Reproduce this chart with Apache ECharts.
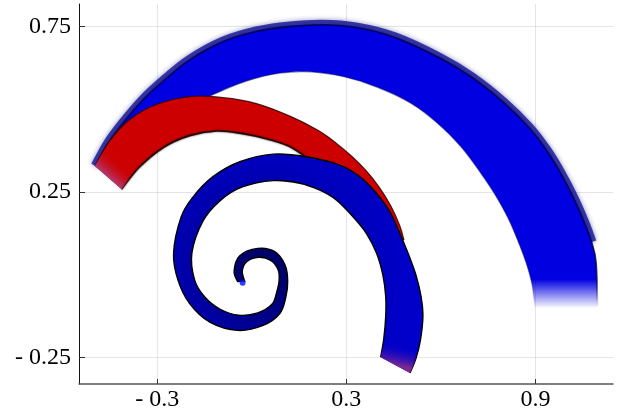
<!DOCTYPE html>
<html>
<head>
<meta charset="utf-8">
<script src="https://cdn.jsdelivr.net/npm/echarts@6/dist/echarts.min.js"></script>
<style>
html, body { margin: 0; padding: 0; background: #fff; }
#main { width: 622px; height: 414px; }
</style>
</head>
<body>
<div id="main"></div>
<script>
// tick labels
var xTicks = [-0.3, 0.3, 0.9];
var yTicks = [-0.25, 0.25, 0.75];

// inner spiral: outer edge and inner edge, from the centre outwards
var coilOuterX = [-0.044, -0.056, -0.038, 0.019, 0.073, 0.106, 0.114, 0.108, 0.089, 0.036, -0.044, -0.133, -0.197, -0.234, -0.248, -0.224, -0.186, -0.123, -0.038, 0.068, 0.174, 0.279, 0.343, 0.396, 0.438, 0.470, 0.496, 0.521, 0.537, 0.543, 0.535, 0.521, 0.502];
var coilOuterY = [-0.023, 0.010, 0.057, 0.079, 0.069, 0.028, -0.020, -0.069, -0.118, -0.154, -0.169, -0.144, -0.088, -0.017, 0.064, 0.174, 0.235, 0.296, 0.341, 0.364, 0.356, 0.331, 0.296, 0.245, 0.190, 0.124, 0.064, -0.002, -0.066, -0.126, -0.199, -0.253, -0.298];
var coilInnerX = [-0.022, -0.030, -0.016, 0.022, 0.060, 0.083, 0.087, 0.079, 0.064, 0.019, -0.041, -0.100, -0.149, -0.181, -0.190, -0.155, -0.102, -0.032, 0.068, 0.152, 0.216, 0.269, 0.322, 0.364, 0.396, 0.416, 0.425, 0.425, 0.419, 0.409];
var coilInnerY = [-0.022, 0.010, 0.039, 0.052, 0.043, 0.016, -0.017, -0.054, -0.090, -0.116, -0.123, -0.105, -0.068, -0.017, 0.064, 0.161, 0.222, 0.264, 0.284, 0.276, 0.255, 0.225, 0.174, 0.124, 0.064, -0.002, -0.066, -0.126, -0.193, -0.250];
var coilDot = [-0.029, -0.025];

// red arm
var redOuterX = [-0.498, -0.451, -0.387, -0.303, -0.197, -0.091, 0.015, 0.121, 0.210, 0.267, 0.318, 0.362, 0.403, 0.441, 0.470, 0.483];
var redOuterY = [0.328, 0.404, 0.469, 0.514, 0.538, 0.535, 0.517, 0.479, 0.436, 0.398, 0.357, 0.315, 0.266, 0.208, 0.147, 0.104];
var redInnerX = [-0.413, -0.356, -0.279, -0.197, -0.111, -0.029, 0.048, 0.130, 0.216, 0.295, 0.359, 0.406, 0.454];
var redInnerY = [0.258, 0.325, 0.385, 0.420, 0.434, 0.426, 0.410, 0.382, 0.322, 0.267, 0.210, 0.149, 0.104];

// big outer arm
var bigOuterX = [-0.495, -0.456, -0.409, -0.345, -0.271, -0.197, -0.091, 0.015, 0.121, 0.226, 0.330, 0.451, 0.596, 0.697, 0.798, 0.881, 0.935, 0.979, 1.021, 1.056, 1.078, 1.092, 1.097];
var bigOuterY = [0.328, 0.396, 0.457, 0.528, 0.593, 0.649, 0.704, 0.735, 0.750, 0.755, 0.747, 0.718, 0.655, 0.597, 0.521, 0.443, 0.376, 0.308, 0.231, 0.155, 0.098, 0.037, -0.099];
var bigInnerX = [-0.457, -0.419, -0.356, -0.276, -0.197, -0.123, -0.017, 0.089, 0.187, 0.293, 0.399, 0.505, 0.590, 0.664, 0.727, 0.775, 0.813, 0.844, 0.870, 0.889, 0.898];
var bigInnerY = [0.304, 0.334, 0.395, 0.458, 0.507, 0.544, 0.585, 0.609, 0.613, 0.598, 0.566, 0.518, 0.457, 0.386, 0.306, 0.237, 0.171, 0.103, 0.037, -0.029, -0.099];

function pairs(xs, ys) {
    var r = [];
    for (var i = 0; i < xs.length; i++) r.push([xs[i], ys[i]]);
    return r;
}
function toPx(api, xs, ys) {
    var r = [];
    for (var i = 0; i < xs.length; i++) r.push(api.coord([xs[i], ys[i]]));
    return r;
}
// smooth curve through the points (catmull-rom as bezier)
function bez(p, move) {
    var d = (move ? 'M' : 'L') + p[0][0] + ' ' + p[0][1];
    for (var i = 0; i < p.length - 1; i++) {
        var a = p[Math.max(i - 1, 0)], b = p[i], c = p[i + 1], e = p[Math.min(i + 2, p.length - 1)];
        d += ' C' + (b[0] + (c[0] - a[0]) / 6) + ' ' + (b[1] + (c[1] - a[1]) / 6) + ' ' +
            (c[0] - (e[0] - b[0]) / 6) + ' ' + (c[1] - (e[1] - b[1]) / 6) + ' ' + c[0] + ' ' + c[1];
    }
    return d;
}
function band(o, n) {
    return bez(o, true) + ' ' + bez(n.slice().reverse(), false) + ' Z';
}
function mid(a, b) {
    return [(a[0] + b[0]) / 2, (a[1] + b[1]) / 2];
}
function fade(cap, back, len, c1, c2) {
    var dx = back[0] - cap[0], dy = back[1] - cap[1], l = Math.sqrt(dx * dx + dy * dy);
    return new echarts.graphic.LinearGradient(cap[0], cap[1], cap[0] + dx / l * len, cap[1] + dy / l * len,
        [{offset: 0, color: c1}, {offset: 1, color: c2}], true);
}
function line(p, color, w, blur, blurColor) {
    return {type: 'path', shape: {pathData: bez(p, true)},
        style: {fill: 'none', stroke: color, lineWidth: w, shadowBlur: blur || 0, shadowColor: blurColor || color}};
}

function renderBig(params, api) {
    if (params.dataIndex !== 0) return;
    var o = toPx(api, bigOuterX, bigOuterY), n = toPx(api, bigInnerX, bigInnerY);
    var top = Infinity, bot = -Infinity;
    o.forEach(function (p) { top = Math.min(top, p[1]); bot = Math.max(bot, p[1]); });
    var s = (bot - 28 - top) / (bot - top);
    function g(c, c2) {
        return new echarts.graphic.LinearGradient(0, top, 0, bot,
            [{offset: 0, color: c}, {offset: s, color: c}, {offset: 1, color: c2}], true);
    }
    return {
        type: 'group',
        children: [
            line(o.slice(0, o.length - 2), 'rgba(10,10,140,0.75)', 10, 5, 'rgba(10,10,140,0.6)'),
            {type: 'path', shape: {pathData: band(o, n)}, style: {fill: g('#0000e0', 'rgba(0,0,224,0.04)'), stroke: 'none'}},
            line(o, g('rgba(0,0,80,0.8)', 'rgba(0,0,80,0)'), 1.8),
            line(n, g('rgba(0,0,90,0.5)', 'rgba(0,0,90,0)'), 1.2)
        ]
    };
}

function renderRed(params, api) {
    if (params.dataIndex !== 0) return;
    var o = toPx(api, redOuterX, redOuterY), n = toPx(api, redInnerX, redInnerY);
    return {
        type: 'group',
        children: [
            {type: 'path', shape: {pathData: band(o, n)}, style: {fill: '#cc0000', stroke: 'none'}},
            line(o, 'rgba(40,0,0,0.8)', 1.2),
            line(n, 'rgba(30,0,0,0.9)', 1.6, 2),
            {type: 'path', shape: {pathData: band(o.slice(0, 3), n.slice(0, 3))},
                style: {fill: fade(mid(o[0], n[0]), mid(o[2], n[2]), 20, 'rgba(175,60,120,1)', 'rgba(204,0,0,0)'), stroke: 'none'}}
        ]
    };
}

function renderCoil(params, api) {
    if (params.dataIndex !== 0) return;
    var o = toPx(api, coilOuterX, coilOuterY), n = toPx(api, coilInnerX, coilInnerY);
    var c = [0, 0];
    for (var i = 0; i < 8; i++) { c[0] += o[i][0] / 8; c[1] += o[i][1] / 8; }
    var fill = new echarts.graphic.RadialGradient(c[0], c[1], 170, [
        {offset: 0, color: '#000060'}, {offset: 0.16, color: '#000070'}, {offset: 0.3, color: '#00008e'},
        {offset: 0.45, color: '#0000a8'}, {offset: 0.62, color: '#0000bc'}, {offset: 0.85, color: '#0000c8'},
        {offset: 1, color: '#0000cc'}], true);
    var oe = o.slice(-3), ne = n.slice(-3);
    return {
        type: 'group',
        children: [
            {type: 'path', shape: {pathData: band(o, n)}, style: {fill: fill, stroke: 'none'}},
            line(o, '#000', 1.4),
            line(n, '#000', 1.4),
            {type: 'path', shape: {pathData: band(oe, ne)},
                style: {fill: fade(mid(oe[2], ne[2]), mid(oe[0], ne[0]), 22, 'rgba(125,40,145,1)', 'rgba(0,0,204,0)'), stroke: 'none'}}
        ]
    };
}

var chart = echarts.init(document.getElementById('main'));
var labelFont = {fontFamily: 'Liberation Serif', fontSize: 24, color: '#000'};
function fmt(v) {
    return v < 0 ? '- ' + (-v) : '' + v;
}

var option = {
    animation: false,
    backgroundColor: '#fff',
    grid: {left: 79, right: 9, top: 4, bottom: 30, outerBoundsMode: 'none'},
    xAxis: {
        type: 'value', min: -0.548, max: 1.146,
        axisLine: {show: true, onZero: false, lineStyle: {color: '#555', width: 1.5}},
        axisTick: {show: true, inside: true, length: 5, customValues: xTicks, lineStyle: {color: '#333'}},
        axisLabel: Object.assign({customValues: xTicks, formatter: fmt, margin: 4}, labelFont),
        splitLine: {show: true, lineStyle: {color: 'rgba(0,0,0,0.1)', width: 1}}
    },
    yAxis: {
        type: 'value', min: -0.331, max: 0.818,
        axisLine: {show: true, onZero: false, lineStyle: {color: '#111', width: 1}},
        axisTick: {show: true, inside: true, length: 6, customValues: yTicks, lineStyle: {color: '#333'}},
        axisLabel: Object.assign({customValues: yTicks, formatter: fmt, margin: 8}, labelFont),
        splitLine: {show: true, lineStyle: {color: 'rgba(0,0,0,0.1)', width: 1}}
    },
    series: [
        {type: 'custom', renderItem: renderBig, data: pairs(bigOuterX, bigOuterY), silent: true},
        {type: 'custom', renderItem: renderRed, data: pairs(redOuterX, redOuterY), silent: true},
        {type: 'custom', renderItem: renderCoil, data: pairs(coilOuterX, coilOuterY), silent: true},
        {type: 'scatter', data: [coilDot], symbolSize: 6, itemStyle: {color: '#0010f0'}, silent: true}
    ]
};
chart.setOption(option);
</script>
</body>
</html>
